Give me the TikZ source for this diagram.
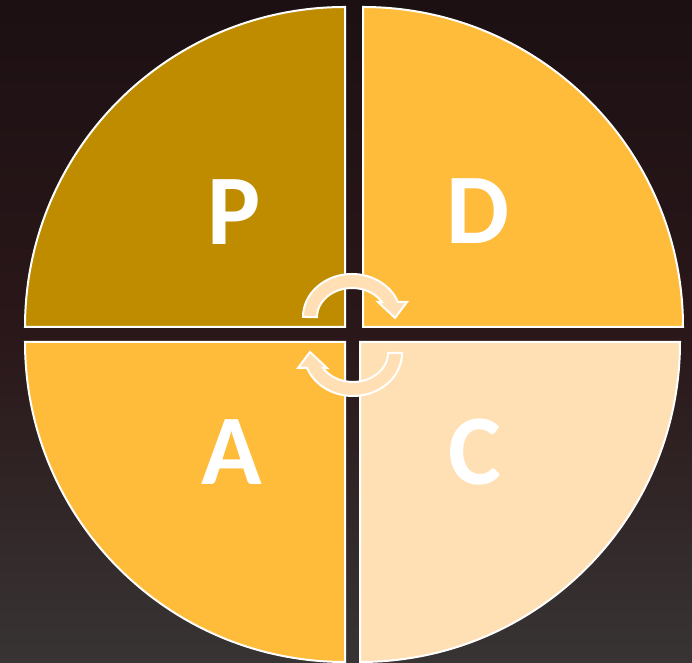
\documentclass[tikz,border=0pt]{standalone}
\usepackage{fontspec}
\setmainfont{Carlito}
\definecolor{bgtop}{HTML}{1C1013}
\definecolor{bgmid}{HTML}{2A1719}
\definecolor{bgbot}{HTML}{383434}
\definecolor{qP}{HTML}{BF8C00}
\definecolor{qD}{HTML}{FFBB3A}
\definecolor{qA}{HTML}{FFBB3A}
\definecolor{qC}{HTML}{FFDFB4}
\definecolor{arrowfill}{HTML}{FFDFB3}
\tikzset{
  quad/.style={draw=white, line width=1pt, line join=miter},
  letter/.style={font=\fontsize{50}{50}\selectfont\bfseries, inner sep=0pt, text=white},
  cyclearrow/.style={fill=arrowfill, draw=white, line width=1pt, line join=miter}
}
\begin{document}
\begin{tikzpicture}[x=0.5pt,y=0.5pt]
\useasboundingbox (0,0) rectangle (692,663);
% background
\shade[top color=bgtop, bottom color=bgbot, middle color=bgmid] (0,0) rectangle (692,663);
% quadrants
\draw[quad, fill=qP] (345,336) -- (25,336) arc[start angle=180, end angle=90, radius=320] -- cycle;
\draw[quad, fill=qD] (363,336) -- (363,656) arc[start angle=90, end angle=0, radius=320] -- cycle;
\draw[quad, fill=qA] (345,321) -- (345,1) arc[start angle=270, end angle=180, radius=320] -- cycle;
\draw[quad, fill=qC] (360,321) -- (680,321) arc[start angle=0, end angle=-90, radius=320] -- cycle;
% letters
\node[letter] (p) at (234,451) {P};
\node[letter] (d) at (478,452) {D};
\node[letter] (a) at (232,211) {A};
\node[letter] (c) at (475,211) {C};
% circular arrows
\draw[cyclearrow] (303,346) arc[start angle=180, end angle=20.4, x radius=49, y radius=43]
  -- (407,361) -- (395,345) -- (378,361)
  -- (382,360.9) arc[start angle=31, end angle=180, x radius=35, y radius=29] -- cycle;
\begin{scope}[rotate around={180:(352.5,328)}]
\draw[cyclearrow] (303,346) arc[start angle=180, end angle=20.4, x radius=49, y radius=43]
  -- (407,361) -- (395,345) -- (378,361)
  -- (382,360.9) arc[start angle=31, end angle=180, x radius=35, y radius=29] -- cycle;
\end{scope}
\end{tikzpicture}
\end{document}
